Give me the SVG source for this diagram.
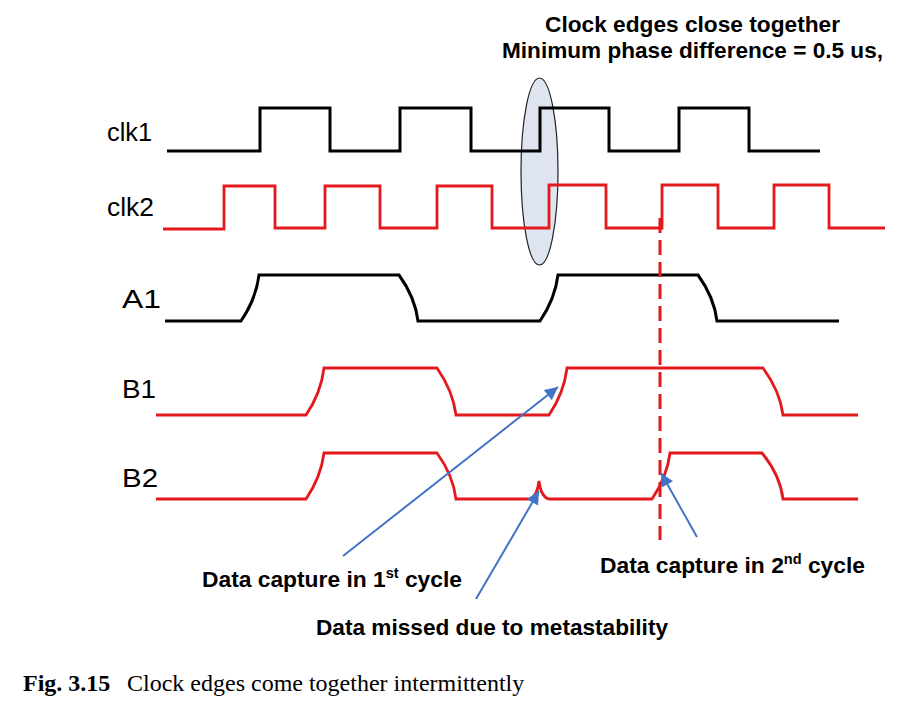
<svg xmlns="http://www.w3.org/2000/svg" width="913" height="708" viewBox="0 0 913 708">
<style>
.wk{fill:none;stroke:#000;stroke-width:3;stroke-linejoin:miter}
.wr{fill:none;stroke:#e3191e;stroke-width:2.8;stroke-linejoin:miter}
.lbl{font-family:"Liberation Sans",Arial,sans-serif;font-size:25px;fill:#000}
.lbl2{font-family:"Liberation Sans",Arial,sans-serif;font-size:26.5px;fill:#000}
.note{font-family:"Liberation Sans",Arial,sans-serif;font-size:22px;font-weight:bold;fill:#000}
.arr{fill:none;stroke:#4472c4;stroke-width:2}
.cap{font-family:"Liberation Serif","Times New Roman",serif;font-size:24px;fill:#000}
</style>
<defs>
<marker id="ah" viewBox="0 0 10 10" refX="10" refY="5" markerWidth="17" markerHeight="13" markerUnits="userSpaceOnUse" orient="auto">
<path d="M0,0 L10,5 L0,10 z" fill="#4472c4"/>
</marker>
</defs>
<rect width="913" height="708" fill="#fff"/>

<g id="highlight">
<ellipse cx="539.5" cy="171.5" rx="18.5" ry="93.5" fill="#dfe5f0" stroke="#222" stroke-width="1.2"/>
</g>

<g id="clk1">
<text class="lbl" x="107" y="141" textLength="45" lengthAdjust="spacingAndGlyphs">clk1</text>
<path class="wk" d="M167,151 H260 V108 H330 V151 H400 V108 H471 V151 H540 V108 H609 V151 H679 V108 H749 V151 H820"/>
</g>

<g id="clk2">
<text class="lbl" x="107" y="216" textLength="47" lengthAdjust="spacingAndGlyphs">clk2</text>
<path class="wr" d="M163,229 H224 V186 H275 V228 H325 V186 H380 V228 H437 V186 H492 V228 H549 V185 H606 V228 H662 V185 H718 V228 H774 V185 H829 V228 H885"/>
</g>

<g id="A1">
<text class="lbl2" x="122" y="308" textLength="39" lengthAdjust="spacingAndGlyphs">A1</text>
<path class="wk" d="M165,321 H241 Q256,299 259,275 H399 Q415,297 418,321 H540 Q555,299 558,275 H698 Q714,297 717,321 H839"/>
</g>

<g id="B1">
<text class="lbl2" x="122" y="398" textLength="34" lengthAdjust="spacingAndGlyphs">B1</text>
<path class="wr" d="M156,415 H306 Q321,393 324,368 H437 Q453,391 456,415 H549 Q564,393 567,368 H763 Q780,391 783,415 H858"/>
</g>

<g id="B2">
<text class="lbl2" x="122" y="487" textLength="36" lengthAdjust="spacingAndGlyphs">B2</text>
<path class="wr" d="M156,499 H306 Q321,477 324,453 H437 Q453,475 456,499 H530 Q537,497 539,481 Q541,497 549,499 H652 Q667,477 670,453 H762 Q780,475 783,499 H858"/>
</g>

<g id="capture-line">
<line x1="660" y1="218" x2="660" y2="540" stroke="#e3191e" stroke-width="3" stroke-dasharray="15,7"/>
</g>

<g id="connectors">
<line class="arr" x1="343" y1="556" x2="558" y2="387" marker-end="url(#ah)"/>
<line class="arr" x1="476" y1="599" x2="539" y2="491" marker-end="url(#ah)"/>
<line class="arr" x1="697" y1="537" x2="661" y2="473" marker-end="url(#ah)"/>
</g>

<g id="title">
<text class="note" x="692.5" y="32" text-anchor="middle" textLength="295" lengthAdjust="spacingAndGlyphs">Clock edges close together</text>
<text class="note" x="692.5" y="58" text-anchor="middle" textLength="381" lengthAdjust="spacingAndGlyphs">Minimum phase difference = 0.5 us,</text>
</g>

<g id="note-1st">
<text class="note" x="202" y="587" textLength="260" lengthAdjust="spacingAndGlyphs">Data capture in 1<tspan font-size="14" dy="-9">st</tspan><tspan dy="9"> cycle</tspan></text>
</g>

<g id="note-missed">
<text class="note" x="316" y="635" textLength="352" lengthAdjust="spacingAndGlyphs">Data missed due to metastability</text>
</g>

<g id="note-2nd">
<text class="note" x="600" y="573" textLength="265" lengthAdjust="spacingAndGlyphs">Data capture in 2<tspan font-size="14" dy="-9">nd</tspan><tspan dy="9"> cycle</tspan></text>
</g>

<g id="caption">
<text class="cap" x="23" y="691"><tspan font-weight="bold">Fig. 3.15</tspan><tspan x="127">Clock edges come together intermittently</tspan></text>
</g>
</svg>
